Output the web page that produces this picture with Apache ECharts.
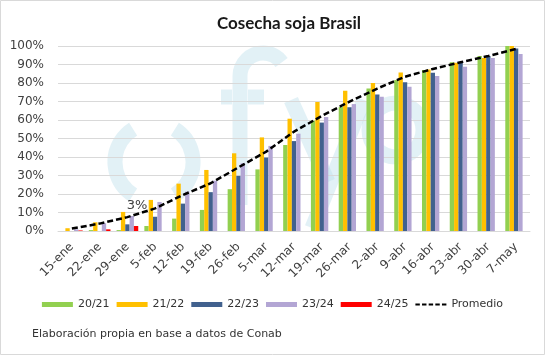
<!DOCTYPE html>
<html>
<head>
<meta charset="utf-8">
<script src="https://cdn.jsdelivr.net/npm/echarts@6/dist/echarts.min.js"></script>
<style>html,body{margin:0;padding:0;background:#fff}#c{width:545px;height:355px}</style>
</head>
<body>
<div id="c"></div>
<script>
const categories = ['15-ene','22-ene','29-ene','5-feb','12-feb','19-feb','26-feb','5-mar','12-mar','19-mar','26-mar','2-abr','9-abr','16-abr','23-abr','30-abr','7-may'];
const s2021 = [0, 0.5, 0.5, 2.7, 6.7, 11.4, 22.6, 33.3, 46.5, 59.6, 67.0, 77.0, 81.6, 87.0, 91.2, 94.6, 100];
const s2122 = [1.5, 4.7, 10.3, 16.8, 25.6, 33.0, 42.0, 50.6, 60.7, 69.7, 75.8, 80.0, 85.7, 87.3, 91.0, 93.5, 100];
const s2223 = [0, 0, 3.6, 7.7, 14.8, 21.0, 29.8, 39.7, 48.6, 58.6, 66.9, 73.8, 80.4, 85.6, 90.8, 94.6, 98.7];
const s2324 = [0.9, 4.2, 8.1, 15.7, 21.3, 27.2, 36.6, 46.0, 52.6, 61.6, 68.6, 72.6, 78.0, 83.8, 88.8, 93.5, 95.7];
const s2425 = [0.3, 0.9, 2.7];
const promedio = [1.3, 4.0, 7.5, 12.2, 19.5, 25.8, 34.4, 42.9, 53.7, 62.2, 69.9, 77.0, 83.4, 87.6, 91.2, 94.6, 98.4];
const seriesNames = ['20/21','21/22','22/23','23/24','24/25','Promedio'];
const yTicks = [0,10,20,30,40,50,60,70,80,90,100];

const FONT = 'DejaVu Sans';
const wm = 'rgba(185,222,234,0.42)';
const chart = echarts.init(document.getElementById('c'), null, {renderer:'canvas'});

const redData = s2425.map((v,i)=> i===2 ? {value:v, label:{show:true, formatter:'3%', position:'top', offset:[1,-9], color:'#404040', fontSize:13, fontFamily:FONT}} : v);

function bar(name, data, color){
  return {name, type:'bar', data, barGap:'0%', barCategoryGap:'22%', itemStyle:{color}, z:3};
}
const wmStroke = {stroke:wm, lineWidth:15, fill:'none', lineCap:'butt'};
const dashIcon = 'path://M0,0M0,4M0,1h4v2h-4zM6,1h4v2h-4zM12,1h4v2h-4zM18,1h4v2h-4zM24,1h4v2h-4z';

chart.setOption({
  animation:false,
  title:{text:'Cosecha soja Brasil', left:284, textAlign:'center', top:10,
    textStyle:{fontFamily:'Lato', fontWeight:'bold', fontSize:17, color:'#1a1a1a'}},
  graphic:{elements:[
    {type:'rect', shape:{x:0.5,y:0.5,width:544,height:354}, style:{fill:'none', stroke:'#d9d9d9', lineWidth:1}},
    {type:'arc', z:-10, shape:{cx:154, cy:162, r:39, startAngle:Math.PI*0.68, endAngle:Math.PI*1.32}, style:wmStroke},
    {type:'arc', z:-10, shape:{cx:154, cy:162, r:39, startAngle:-Math.PI*0.32, endAngle:Math.PI*0.32}, style:wmStroke},
    {type:'line', z:-10, shape:{x1:240, y1:205, x2:240, y2:76}, style:wmStroke},
    {type:'arc', z:-10, shape:{cx:263, cy:76, r:23, startAngle:Math.PI, endAngle:Math.PI*1.8, clockwise:true}, style:wmStroke},
    {type:'line', z:-10, shape:{x1:221, y1:97, x2:232, y2:97}, style:wmStroke},
    {type:'line', z:-10, shape:{x1:248, y1:97, x2:264, y2:97}, style:wmStroke},
    {type:'line', z:-10, shape:{x1:291, y1:100, x2:328, y2:182}, style:wmStroke},
    {type:'line', z:-10, shape:{x1:364, y1:100, x2:312, y2:228}, style:wmStroke},
    {type:'circle', z:-10, shape:{cx:396, cy:130, r:27}, style:wmStroke}
  ]},
  grid:{left:58, right:15, top:46, bottom:124},
  legend:{
    bottom:40, left:'center', itemWidth:31, itemHeight:5, itemGap:7,
    textStyle:{fontFamily:FONT, fontSize:11, color:'#333'},
    data:seriesNames.map((n,i)=> i<5 ? {name:n, icon:'rect'} : {name:n, icon:dashIcon, itemStyle:{color:'#000'}})
  },
  xAxis:{
    type:'category', data:categories,
    axisLine:{lineStyle:{color:'#d9d9d9'}}, axisTick:{show:false},
    axisLabel:{rotate:45, fontFamily:FONT, fontSize:12, color:'#404040', interval:0, margin:14}
  },
  yAxis:{
    type:'value', min:0, max:100, interval:10,
    axisLabel:{formatter:v=>v+'%', fontFamily:FONT, fontSize:12, color:'#404040', margin:14},
    axisLine:{show:false}, axisTick:{show:false},
    splitLine:{lineStyle:{color:'#d9d9d9'}}
  },
  series:[
    bar(seriesNames[0], s2021, '#92d050'),
    bar(seriesNames[1], s2122, '#ffc000'),
    bar(seriesNames[2], s2223, '#41618e'),
    bar(seriesNames[3], s2324, '#b3a6d4'),
    bar(seriesNames[4], redData, '#ff0000'),
    {name:seriesNames[5], type:'line', data:promedio, symbol:'none', z:5,
      lineStyle:{color:'#000', width:2.5, type:[6,3]}, itemStyle:{color:'#000'}}
  ]
});
</script>
<div style="position:absolute;left:32px;top:327px;font-family:'DejaVu Sans';font-size:11px;color:#333;white-space:nowrap">Elaboración propia en base a datos de Conab</div>
</body>
</html>
